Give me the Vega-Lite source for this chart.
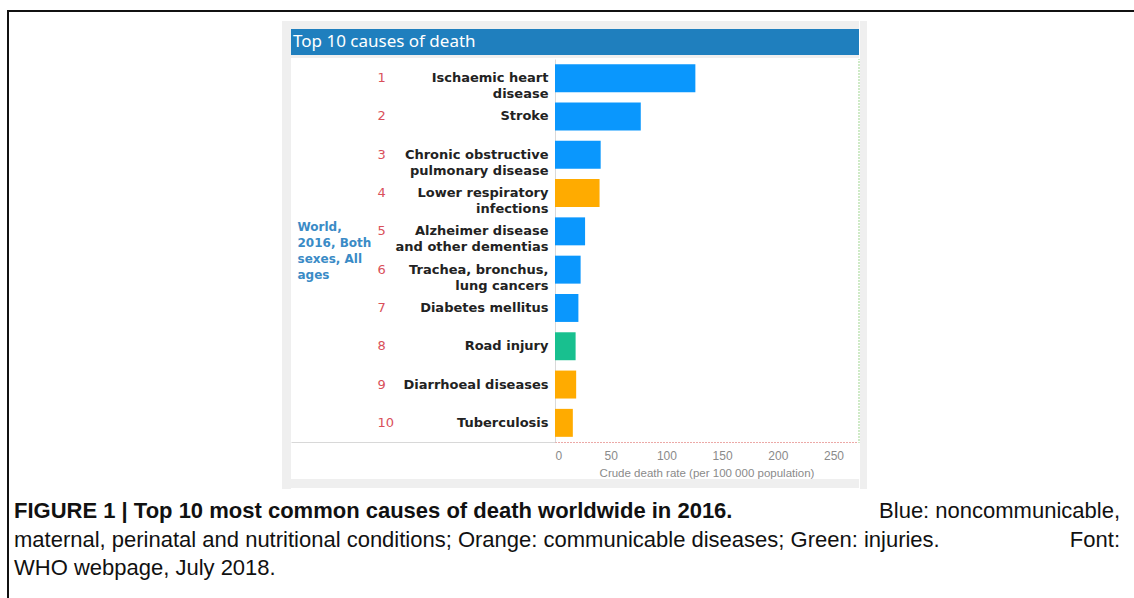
{
  "$schema": "https://vega.github.io/schema/vega-lite/v6.json",
  "background": "white",
  "padding": 0,
  "spacing": 0,
  "config": {"view": {"stroke": null}, "axis": {"grid": false}, "concat": {"spacing": 0}},
  "datasets": {
    "causes": [
      {"rank": 1, "cause": "Ischaemic heart disease", "group": "Noncommunicable", "rate": 126},
      {"rank": 2, "cause": "Stroke", "group": "Noncommunicable", "rate": 77},
      {"rank": 3, "cause": "Chronic obstructive pulmonary disease", "group": "Noncommunicable", "rate": 41},
      {"rank": 4, "cause": "Lower respiratory infections", "group": "Communicable", "rate": 40},
      {"rank": 5, "cause": "Alzheimer disease and other dementias", "group": "Noncommunicable", "rate": 27},
      {"rank": 6, "cause": "Trachea, bronchus, lung cancers", "group": "Noncommunicable", "rate": 23},
      {"rank": 7, "cause": "Diabetes mellitus", "group": "Noncommunicable", "rate": 21},
      {"rank": 8, "cause": "Road injury", "group": "Injuries", "rate": 18.5},
      {"rank": 9, "cause": "Diarrhoeal diseases", "group": "Communicable", "rate": 19},
      {"rank": 10, "cause": "Tuberculosis", "group": "Communicable", "rate": 16}
    ],
    "header": [{"title": "Top 10 causes of death"}],
    "caption": [
      {"line": 1, "part": "start", "text": "FIGURE 1 | Top 10 most common causes of death worldwide in 2016."},
      {"line": 1, "part": "end", "text": "Blue: noncommunicable,"},
      {"line": 2, "part": "start", "text": "maternal, perinatal and nutritional conditions; Orange: communicable diseases; Green: injuries."},
      {"line": 2, "part": "end", "text": "Font:"},
      {"line": 3, "part": "start", "text": "WHO webpage, July 2018."}
    ]
  },
  "vconcat": [
    {"width": 1134, "height": 10, "data": {"values": []}, "mark": "rect", "encoding": {}},
    {
      "hconcat": [
        {"width": 7, "height": 2, "data": {"values": []}, "mark": "rect", "encoding": {}},
        {"width": 1127, "height": 2, "data": {"values": []}, "mark": "rect", "encoding": {}, "view": {"fill": "#111111"}}
      ],
      "spacing": 0, "bounds": "flush"
    },
    {
      "hconcat": [
        {"width": 7, "height": 586, "data": {"values": []}, "mark": "rect", "encoding": {}},
        {"width": 2, "height": 586, "data": {"values": []}, "mark": "rect", "encoding": {}, "view": {"fill": "#111111"}},
        {
          "vconcat": [
            {"width": 1125, "height": 9, "data": {"values": []}, "mark": "rect", "encoding": {}},
            {
              "hconcat": [
                {"width": 273, "height": 468, "data": {"values": []}, "mark": "rect", "encoding": {}},
                {
                  "hconcat": [
                    {"width": 9, "height": 468, "data": {"values": []}, "mark": "rect", "encoding": {}, "view": {"fill": "#efefef"}},
                    {
                      "vconcat": [
                        {"width": 568, "height": 8, "data": {"values": []}, "mark": "rect", "encoding": {}, "view": {"fill": "#efefef"}},
                        {
                          "width": 568, "height": 26,
                          "data": {"name": "header"},
                          "view": {"fill": "#1f7fbe"},
                          "mark": {"type": "text", "align": "left", "baseline": "middle", "dx": 2, "font": "Noto Sans", "fontSize": 17, "color": "#ffffff"},
                          "encoding": {
                            "x": {"datum": 0, "type": "quantitative", "scale": {"domain": [0, 1]}, "axis": null},
                            "text": {"field": "title"}
                          }
                        },
                        {"width": 568, "height": 3, "data": {"values": []}, "mark": "rect", "encoding": {}, "view": {"fill": "#efefef"}},
                        {
                          "hconcat": [
                            {
                              "width": 264, "height": 383,
                              "data": {"values": []},
                              "mark": "rect",
                              "encoding": {
                                "x": {"datum": 0, "type": "quantitative", "axis": {"domain": true, "domainColor": "#d8d8d8", "labels": false, "ticks": false, "grid": false, "title": null}}
                              }
                            },
                            {
                              "width": 303, "height": 383,
                              "data": {"name": "causes"},
                              "layer": [
                                {
                                  "mark": {"type": "bar", "opacity": 0},
                                  "encoding": {
                                    "y": {
                                      "field": "rank", "type": "ordinal", "sort": "ascending",
                                      "scale": {"paddingInner": 0.27, "paddingOuter": 0.135},
                                      "axis": {
                                        "orient": "left", "offset": 178, "domain": false, "ticks": false, "grid": false,
                                        "labelAlign": "left", "labelPadding": 0, "labelColor": "#d9505a",
                                        "labelFont": "DejaVu Sans", "labelFontSize": 13,
                                        "title": ["World,", "2016, Both", "sexes, All", "ages"],
                                        "titleAngle": 0, "titleAlign": "left", "titleBaseline": "top",
                                        "titleX": -80, "titleY": 162, "titleColor": "#3a8bc6",
                                        "titleFont": "DejaVu Sans", "titleFontWeight": "bold", "titleFontSize": 12, "titleLineHeight": 16
                                      }
                                    },
                                    "x": {
                                      "field": "rate", "type": "quantitative",
                                      "scale": {"domain": [0, 272], "nice": false},
                                      "axis": {
                                        "values": [0, 50, 100, 150, 200, 250],
                                        "domain": true, "domainColor": "#d9534f", "domainDash": [1, 2], "domainWidth": 1,
                                        "ticks": false, "grid": false, "labelOverlap": false,
                                        "labelColor": "#8a8a8a", "labelFont": "Liberation Sans", "labelFontSize": 12, "labelPadding": 8,
                                        "title": "Crude death rate (per 100 000 population)",
                                        "titleColor": "#8a8a8a", "titleFont": "Liberation Sans", "titleFontSize": 11.5,
                                        "titleFontWeight": "normal", "titlePadding": 6
                                      }
                                    }
                                  }
                                },
                                {
                                  "mark": {"type": "bar"},
                                  "encoding": {
                                    "y": {
                                      "field": "cause", "type": "nominal",
                                      "sort": {"field": "rank", "op": "min", "order": "ascending"},
                                      "scale": {"paddingInner": 0.27, "paddingOuter": 0.135},
                                      "axis": {
                                        "orient": "left", "domain": true, "domainColor": "#d9d9d9", "ticks": false, "grid": false,
                                        "labelPadding": 7, "labelFont": "DejaVu Sans", "labelFontWeight": "bold", "labelFontSize": 13,
                                        "labelColor": "#222222", "labelLineHeight": 16, "labelLimit": 300,
                                        "labelExpr": "datum.value == 'Ischaemic heart disease' ? ['Ischaemic heart', 'disease'] : datum.value == 'Chronic obstructive pulmonary disease' ? ['Chronic obstructive', 'pulmonary disease'] : datum.value == 'Lower respiratory infections' ? ['Lower respiratory', 'infections'] : datum.value == 'Alzheimer disease and other dementias' ? ['Alzheimer disease', 'and other dementias'] : datum.value == 'Trachea, bronchus, lung cancers' ? ['Trachea, bronchus,', 'lung cancers'] : datum.label",
                                        "title": null
                                      }
                                    },
                                    "x": {"field": "rate", "type": "quantitative"},
                                    "color": {
                                      "field": "group", "type": "nominal",
                                      "scale": {"domain": ["Noncommunicable", "Communicable", "Injuries"], "range": ["#0a97fd", "#ffab00", "#18c08f"]},
                                      "legend": null
                                    }
                                  }
                                }
                              ],
                              "resolve": {"scale": {"y": "independent"}}
                            },
                            {"width": 1, "height": 383, "data": {"values": []}, "mark": "rect", "encoding": {}, "view": {"fill": null, "stroke": "#9fd48f", "strokeDash": [1, 2], "strokeWidth": 1}}
                          ],
                          "spacing": 0, "bounds": "flush"
                        },
                        {"width": 568, "height": 9, "data": {"values": []}, "mark": "rect", "encoding": {}, "view": {"fill": "#efefef"}}
                      ],
                      "spacing": 0
                    },
                    {"width": 7, "height": 468, "data": {"values": []}, "mark": "rect", "encoding": {}, "view": {"fill": "#efefef"}}
                  ],
                  "spacing": 0
                }
              ],
              "spacing": 0
            },
            {
              "hconcat": [
                {"width": 5, "height": 101, "data": {"values": []}, "mark": "rect", "encoding": {}},
                {
                  "width": 1106, "height": 101,
                  "data": {"name": "caption"},
                  "encoding": {
                    "y": {"field": "line", "type": "ordinal", "scale": {"type": "point", "padding": 0.77}, "axis": null},
                    "text": {"field": "text"}
                  },
                  "layer": [
                    {
                      "transform": [{"filter": "datum.part == 'start' && datum.line == 1"}],
                      "mark": {"type": "text", "align": "left", "baseline": "middle", "font": "Liberation Sans", "fontSize": 22, "fontWeight": "bold", "color": "#111111"},
                      "encoding": {"x": {"datum": 0, "type": "quantitative", "scale": {"domain": [0, 1]}, "axis": null}}
                    },
                    {
                      "transform": [{"filter": "datum.part == 'start' && datum.line > 1"}],
                      "mark": {"type": "text", "align": "left", "baseline": "middle", "font": "Liberation Sans", "fontSize": 22, "color": "#111111"},
                      "encoding": {"x": {"datum": 0, "type": "quantitative"}}
                    },
                    {
                      "transform": [{"filter": "datum.part == 'end'"}],
                      "mark": {"type": "text", "align": "right", "baseline": "middle", "font": "Liberation Sans", "fontSize": 22, "color": "#111111"},
                      "encoding": {"x": {"datum": 1, "type": "quantitative"}}
                    }
                  ]
                }
              ],
              "spacing": 0, "bounds": "flush"
            }
          ],
          "spacing": 0
        }
      ],
      "spacing": 0
    }
  ]
}
